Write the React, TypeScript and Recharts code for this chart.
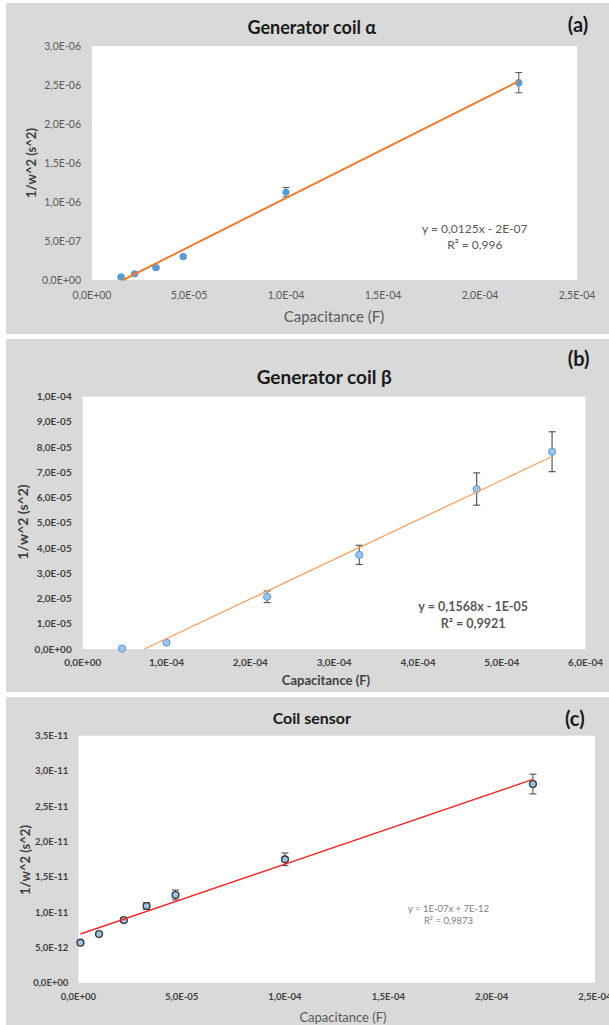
import React from 'react';
import { ScatterChart, Scatter, XAxis, YAxis, CartesianGrid, ErrorBar } from 'recharts';

// (a) Generator coil alpha
const capA = [1.5e-5, 2.2e-5, 3.3e-5, 4.7e-5, 1.0e-4, 2.2e-4];
const invW2A = [4e-8, 8e-8, 1.58e-7, 3.0e-7, 1.125e-6, 2.53e-6];
const errA = [1e-8, 1e-8, 1.5e-8, 1.5e-8, 6e-8, 1.3e-7];
const trendXA = [1.6e-5, 2.2e-4];
const trendYA = [0, 2.55e-6];
const yTicksA = [0, 5e-7, 1e-6, 1.5e-6, 2e-6, 2.5e-6, 3e-6];
const yLabelsA = ['0,0E+00', '5,0E-07', '1,0E-06', '1,5E-06', '2,0E-06', '2,5E-06', '3,0E-06'];
const xTicksA = [0, 5e-5, 1e-4, 1.5e-4, 2e-4, 2.5e-4];
const xLabelsA = ['0,0E+00', '5,0E-05', '1,0E-04', '1,5E-04', '2,0E-04', '2,5E-04'];

// (b) Generator coil beta
const capB = [4.7e-5, 1.0e-4, 2.2e-4, 3.3e-4, 4.7e-4, 5.6e-4];
const invW2B = [2e-7, 2.5e-6, 2.07e-5, 3.73e-5, 6.34e-5, 7.82e-5];
const errB = [2e-7, 5e-7, 2.3e-6, 3.8e-6, 6.4e-6, 7.9e-6];
const trendXB = [7.37e-5, 5.6e-4];
const trendYB = [0, 7.63e-5];
const yTicksB = [0, 1e-5, 2e-5, 3e-5, 4e-5, 5e-5, 6e-5, 7e-5, 8e-5, 9e-5, 1e-4];
const yLabelsB = ['0,0E+00', '1,0E-05', '2,0E-05', '3,0E-05', '4,0E-05', '5,0E-05', '6,0E-05', '7,0E-05', '8,0E-05', '9,0E-05', '1,0E-04'];
const xTicksB = [0, 1e-4, 2e-4, 3e-4, 4e-4, 5e-4, 6e-4];
const xLabelsB = ['0,0E+00', '1,0E-04', '2,0E-04', '3,0E-04', '4,0E-04', '5,0E-04', '6,0E-04'];

// (c) Coil sensor
const capC = [1e-6, 1e-5, 2.2e-5, 3.3e-5, 4.7e-5, 1.0e-4, 2.2e-4];
const invW2C = [5.67e-12, 6.9e-12, 8.88e-12, 1.087e-11, 1.243e-11, 1.748e-11, 2.815e-11];
const errC = [1e-13, 2e-13, 3.5e-13, 4.7e-13, 7e-13, 9e-13, 1.4e-12];
const trendXC = [1e-6, 2.2e-4];
const trendYC = [6.9e-12, 2.88e-11];
const yTicksC = [0, 5e-12, 1e-11, 1.5e-11, 2e-11, 2.5e-11, 3e-11, 3.5e-11];
const yLabelsC = ['0,0E+00', '5,0E-12', '1,0E-11', '1,5E-11', '2,0E-11', '2,5E-11', '3,0E-11', '3,5E-11'];
const xTicksC = [0, 5e-5, 1e-4, 1.5e-4, 2e-4, 2.5e-4];
const xLabelsC = ['0,0E+00', '5,0E-05', '1,0E-04', '1,5E-04', '2,0E-04', '2,5E-04'];

const zip = (xs: number[], ys: number[], es?: number[]) =>
  xs.map((x, i) => ({ x, y: ys[i], err: es ? es[i] : 0 }));

const BG = '#D9D9D9';

const Txt = ({ x, y, size, weight = 400, color = '#1a1a1a', rotate = false, children }: any) => (
  <div
    style={{
      position: 'absolute',
      left: x,
      top: y,
      transform: `translate(-50%, -50%)${rotate ? ' rotate(-90deg)' : ''}`,
      fontSize: size,
      fontWeight: weight,
      color,
      whiteSpace: 'nowrap',
      lineHeight: 1,
    }}
  >
    {children}
  </div>
);

const dotA = (p: any) => <circle cx={p.cx} cy={p.cy} r={3.6} fill="#5B9BD5" />;
const dotB = (p: any) => <circle cx={p.cx} cy={p.cy} r={3.6} fill="#9DC3E6" stroke="#5B9BD5" strokeWidth={1} />;
const dotC = (p: any) => <circle cx={p.cx} cy={p.cy} r={3.4} fill="#9DC3E6" stroke="#3A3A3A" strokeWidth={1.4} />;
const noDot = () => <g />;

export default function App() {
  return (
    <div style={{ position: 'absolute', left: 0, top: 0, width: 609, height: 1025, background: '#fff', fontFamily: 'Lato, sans-serif', overflow: 'hidden' }}>
      {/* panel (a) */}
      <div style={{ position: 'absolute', left: 6, top: 3, width: 603, height: 331, background: BG }}>
        <ScatterChart width={603} height={331} margin={{ top: 43, right: 32, bottom: 0, left: 0 }}>
          <CartesianGrid fill="#fff" horizontal={false} vertical={false} />
          <XAxis dataKey="x" type="number" domain={[0, 2.5e-4]} ticks={xTicksA} tickFormatter={(_v, i) => xLabelsA[i]} height={54} axisLine={false} tickLine={false} tickMargin={6} tick={{ fontSize: 10.5, fill: '#595959' }} interval={0} />
          <YAxis dataKey="y" type="number" domain={[0, 3e-6]} ticks={yTicksA} tickFormatter={(_v, i) => yLabelsA[i]} width={86} axisLine={false} tickLine={false} tickMargin={5} tick={{ fontSize: 10.5, fill: '#595959' }} interval={0} />
          <Scatter data={zip(capA, invW2A, errA)} shape={noDot} isAnimationActive={false}>
            <ErrorBar dataKey="err" direction="y" width={3.5} stroke="#595959" strokeWidth={1} />
          </Scatter>
          <Scatter data={zip(capA, invW2A)} shape={dotA} isAnimationActive={false} />
          <Scatter data={zip(trendXA, trendYA)} shape={noDot} line={{ stroke: '#ED7D31', strokeWidth: 2 }} isAnimationActive={false} />
        </ScatterChart>
        <Txt x={305.8} y={24} size={18} weight={700}>Generator coil α</Txt>
        <Txt x={572} y={21} size={20} weight={700}>(a)</Txt>
        <Txt x={25} y={160} size={13} weight={700} color="#404040" rotate>1/w^2 (s^2)</Txt>
        <Txt x={328} y={313} size={15} color="#595959">Capacitance (F)</Txt>
        <Txt x={468.8} y={226} size={12} color="#595959">y = 0,0125x - 2E-07</Txt>
        <Txt x={468.8} y={242} size={12} color="#595959">R² = 0,996</Txt>
      </div>

      {/* panel (b) */}
      <div style={{ position: 'absolute', left: 6, top: 339, width: 603, height: 353, background: BG }}>
        <ScatterChart width={603} height={353} margin={{ top: 57.7, right: 23.4, bottom: 0, left: 0 }}>
          <CartesianGrid fill="#fff" horizontal={false} vertical={false} />
          <XAxis dataKey="x" type="number" domain={[0, 6e-4]} ticks={xTicksB} tickFormatter={(_v, i) => xLabelsB[i]} height={43} axisLine={false} tickLine={false} tickMargin={4} tick={{ fontSize: 10, fill: '#404040', fontWeight: 700 }} interval={0} />
          <YAxis dataKey="y" type="number" domain={[0, 1e-4]} ticks={yTicksB} tickFormatter={(_v, i) => yLabelsB[i]} width={76.7} axisLine={false} tickLine={false} tickMargin={5} tick={{ fontSize: 10, fill: '#404040', fontWeight: 700 }} interval={0} />
          <Scatter data={zip(capB, invW2B, errB)} shape={noDot} isAnimationActive={false}>
            <ErrorBar dataKey="err" direction="y" width={3.5} stroke="#595959" strokeWidth={1.2} />
          </Scatter>
          <Scatter data={zip(capB, invW2B)} shape={dotB} isAnimationActive={false} />
          <Scatter data={zip(trendXB, trendYB)} shape={noDot} line={{ stroke: '#F4A263', strokeWidth: 1.3 }} isAnimationActive={false} />
        </ScatterChart>
        <Txt x={318.3} y={36.7} size={19} weight={700}>Generator coil β</Txt>
        <Txt x={572.6} y={19} size={20} weight={700}>(b)</Txt>
        <Txt x={17.3} y={182.7} size={14} weight={700} color="#404040" rotate>1/w^2 (s^2)</Txt>
        <Txt x={320} y={341} size={13} weight={700} color="#404040">Capacitance (F)</Txt>
        <Txt x={467.2} y={267.7} size={12.5} weight={700} color="#595959">y = 0,1568x - 1E-05</Txt>
        <Txt x={467.2} y={285} size={12.5} weight={700} color="#595959">R² = 0,9921</Txt>
      </div>

      {/* panel (c) */}
      <div style={{ position: 'absolute', left: 6, top: 697, width: 603, height: 328, background: BG }}>
        <ScatterChart width={603} height={328} margin={{ top: 38.7, right: 14.1, bottom: 0, left: 0 }}>
          <CartesianGrid fill="#fff" horizontal={false} vertical={false} />
          <XAxis dataKey="x" type="number" domain={[0, 2.5e-4]} ticks={xTicksC} tickFormatter={(_v, i) => xLabelsC[i]} height={42.3} axisLine={false} tickLine={false} tickMargin={5} tick={{ fontSize: 9.5, fill: '#404040', fontWeight: 700 }} interval={0} />
          <YAxis dataKey="y" type="number" domain={[0, 3.5e-11]} ticks={yTicksC} tickFormatter={(_v, i) => yLabelsC[i]} width={72.4} axisLine={false} tickLine={false} tickMargin={4} tick={{ fontSize: 9.5, fill: '#404040', fontWeight: 700 }} interval={0} />
          <Scatter data={zip(capC, invW2C, errC)} shape={noDot} isAnimationActive={false}>
            <ErrorBar dataKey="err" direction="y" width={3.5} stroke="#404040" strokeWidth={1} />
          </Scatter>
          <Scatter data={zip(capC, invW2C)} shape={dotC} isAnimationActive={false} />
          <Scatter data={zip(trendXC, trendYC)} shape={noDot} line={{ stroke: '#F02828', strokeWidth: 1.4 }} isAnimationActive={false} />
        </ScatterChart>
        <Txt x={305.8} y={20.7} size={16} weight={700}>Coil sensor</Txt>
        <Txt x={568.8} y={21} size={20} weight={700}>(c)</Txt>
        <Txt x={19} y={163} size={13} weight={700} color="#404040" rotate>1/w^2 (s^2)</Txt>
        <Txt x={337} y={319.7} size={13} color="#595959">Capacitance (F)</Txt>
        <Txt x={442.5} y={212} size={9.5} color="#808080">y = 1E-07x + 7E-12</Txt>
        <Txt x={442.5} y={223.7} size={9.5} color="#808080">R² = 0,9873</Txt>
      </div>
    </div>
  );
}
